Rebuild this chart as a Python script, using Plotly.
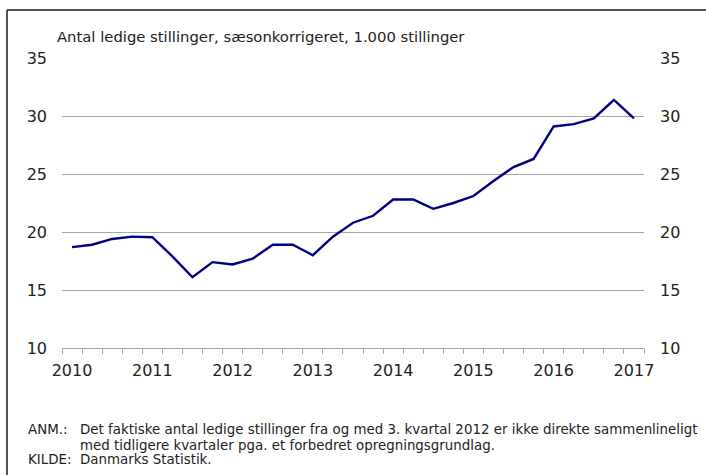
import plotly.graph_objects as go

# ---- data ----
quarters = [f"{y}K{q}" for y in range(2010, 2017) for q in range(1, 5)] + ["2017K1"]
values = [18.7, 18.9, 19.4, 19.6, 19.55, 17.9, 16.1, 17.4, 17.2, 17.7, 18.9, 18.9,
          18.0, 19.6, 20.8, 21.4, 22.8, 22.8, 22.0, 22.5, 23.1, 24.4, 25.6, 26.3,
          29.1, 29.3, 29.8, 31.4, 29.8]
tick_labels = [q[:4] if q.endswith("K1") else "" for q in quarters]
y_ticks = [10, 15, 20, 25, 30, 35]
title_text = "Antal ledige stillinger, sæsonkorrigeret, 1.000 stillinger"
note_label = "ANM.:"
note_lines = ["Det faktiske antal ledige stillinger fra og med 3. kvartal 2012 er ikke direkte sammenlineligt",
              "med tidligere kvartaler pga. et forbedret opregningsgrundlag."]
source_label = "KILDE:"
source_text = "Danmarks Statistik."

# ---- layout geometry (page pixels; body margin removed below) ----
FW, FH = 706, 475
L, R, T, B = 62, 644, 58, 348          # plot area in page pixels
W, H = R - L, B - T


def px(x):
    return (x - L) / W


def py(y):
    return (B - y) / H


FONT = "DejaVu Sans"
TXT = "#222222"
GRID = "#a6a6a6"

fig = go.Figure()
fig.add_trace(go.Scatter(x=quarters, y=values, mode="lines",
                         line=dict(color="#000080", width=2.4),
                         hoverinfo="x+y", showlegend=False))
fig.add_trace(go.Scatter(x=quarters, y=values, mode="lines", yaxis="y2",
                         line=dict(color="rgba(0,0,0,0)", width=0),
                         hoverinfo="skip", showlegend=False))

axis_y = dict(range=[10, 35], tickmode="array", tickvals=y_ticks,
              tickfont=dict(family=FONT, size=16, color=TXT),
              zeroline=False, showline=False, ticks="", fixedrange=True)

fig.update_layout(
    width=FW, height=FH,
    margin=dict(l=L, r=FW - R, t=T, b=FH - B, pad=0, autoexpand=False),
    paper_bgcolor="white", plot_bgcolor="white",
    xaxis=dict(type="category", categoryorder="array", categoryarray=quarters,
               tickmode="array", tickvals=quarters, ticktext=tick_labels,
               tickson="boundaries", ticks="outside", ticklen=5, tickcolor=GRID,
               showline=True, linecolor=GRID, linewidth=1, showgrid=False,
               tickfont=dict(family=FONT, size=16, color=TXT), tickangle=0,
               ticklabelstandoff=8, automargin=False,
               range=[-0.5, len(quarters) - 0.5], fixedrange=True),
    yaxis=dict(**axis_y, showgrid=True, gridcolor=GRID, gridwidth=1,
               ticklabelstandoff=14, automargin=False),
    yaxis2=dict(**axis_y, overlaying="y", side="right", showgrid=False,
                ticklabelstandoff=15, automargin=False),
    showlegend=False,
)

ann = []
ann.append(dict(text=title_text, x=px(55), y=py(36), xref="paper", yref="paper",
                xanchor="left", yanchor="middle", showarrow=False,
                font=dict(family=FONT, size=14.8, color=TXT)))
rows = [(note_label, note_lines[0], 430), ("", note_lines[1], 445), (source_label, source_text, 460)]
for lab, txt, yy in rows:
    if lab:
        ann.append(dict(text=lab, x=px(26), y=py(yy), xref="paper", yref="paper",
                        xanchor="left", yanchor="middle", showarrow=False,
                        font=dict(family=FONT, size=13.4, color=TXT)))
    ann.append(dict(text=txt, x=px(78), y=py(yy), xref="paper", yref="paper",
                    xanchor="left", yanchor="middle", showarrow=False,
                    font=dict(family=FONT, size=13.4, color=TXT)))
fig.update_layout(annotations=ann)

# frame (top and left border)
fig.add_shape(type="line", xref="paper", yref="paper", x0=px(7), x1=px(706),
              y0=py(10), y1=py(10), line=dict(color="#1a1a1a", width=1.5))
fig.add_shape(type="line", xref="paper", yref="paper", x0=px(7), x1=px(7),
              y0=py(10), y1=py(475), line=dict(color="#1a1a1a", width=1.5))

fig.write_html("out.html", config={"displayModeBar": False},
               post_script="document.body.style.margin='0';document.body.style.overflow='hidden';")
